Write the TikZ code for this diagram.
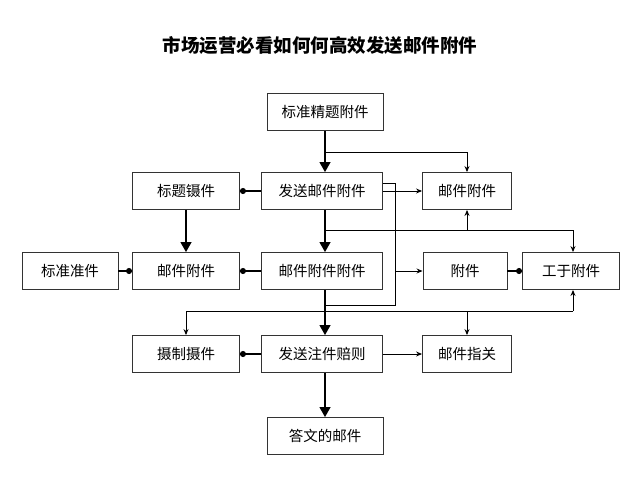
\documentclass[tikz,border=0pt]{standalone}
\usepackage{fontspec}
\newfontfamily\cjk{Noto Sans CJK SC}
\usetikzlibrary{arrows.meta}
\begin{document}
\begin{tikzpicture}[x=1pt,y=-1pt,
 box/.style={draw=black!80,line width=0.9pt,minimum height=37pt,inner sep=0pt,font=\cjk\fontsize{14.5}{16}\selectfont,fill=white},
 big/.style={-{Triangle[width=11pt,length=10pt]},line width=1.1pt},
 sm/.style={-{Stealth[length=6pt,width=5pt]},line width=0.9pt},
 dot/.style={-{Circle[length=6pt]},line width=1.1pt},
 ln/.style={line width=0.9pt}]
\useasboundingbox (0,0) rectangle (640,480);
\node[font=\cjk\bfseries\fontsize{18.5}{20}\selectfont] (title) at (320,45) {市场运营必看如何何高效发送邮件附件};
\node[box,minimum width=116pt] (t1) at (325,112) {标准精题附件};
\node[box,minimum width=121pt] (b1) at (322,191) {发送邮件附件};
\node[box,minimum width=107pt] (l1) at (186,191) {标题镊件};
\node[box,minimum width=89pt] (r1) at (467,191) {邮件附件};
\node[box,minimum width=96pt] (l0) at (70,271) {标准准件};
\node[box,minimum width=107pt] (m2) at (186,271) {邮件附件};
\node[box,minimum width=121pt] (c2) at (322,271) {邮件附件附件};
\node[box,minimum width=84pt] (r2) at (465,271) {附件};
\node[box,minimum width=97pt] (r3) at (571,271) {工于附件};
\node[box,minimum width=107pt] (m3) at (186,354) {摄制摄件};
\node[box,minimum width=121pt] (c3) at (322,354) {发送注件赔则};
\node[box,minimum width=89pt] (r4) at (467,354) {邮件指关};
\node[box,minimum width=116pt] (bt) at (325,436) {答文的邮件};
\coordinate (j1) at (325,152);
\coordinate (j2) at (325,230);
\coordinate (j3) at (325,311);
\draw[big] (t1.south -| j1) -- (b1.north -| j1);
\draw[sm] (j1) -| (r1.north);
\draw[big] (b1.south -| j2) -- (c2.north -| j2);
\draw[ln] (j2) -- (573,230);
\draw[sm] (j2 -| r1) -- (r1.south);
\draw[sm] (573,230) -- (r3.north -| 573,0);
\draw[big] (c2.south -| j3) -- (c3.north -| j3);
\draw[ln] (186,311) -- (573,311);
\draw[sm] (186,311) -- (m3.north);
\draw[sm] (j3 -| r4) -- (r4.north);
\draw[sm] (573,311) -- (r3.south -| 573,0);
\draw[big] (c3.south -| j3) -- (bt.north -| j3);
\draw[big] (l1) -- (m2);
\draw[dot] (b1) -- (l1);
\draw[sm] (b1) -- (r1);
\draw[ln] (383,183) -- (395,183) -- (395,305) -- (325,305);
\draw[dot] (l0) -- (m2);
\draw[dot] (c2) -- (m2);
\draw[sm] (395,271) -- (r2.west);
\draw[dot] (r2) -- (r3);
\draw[dot] (c3) -- (m3);
\draw[sm] (c3) -- (r4);
\end{tikzpicture}
\end{document}
